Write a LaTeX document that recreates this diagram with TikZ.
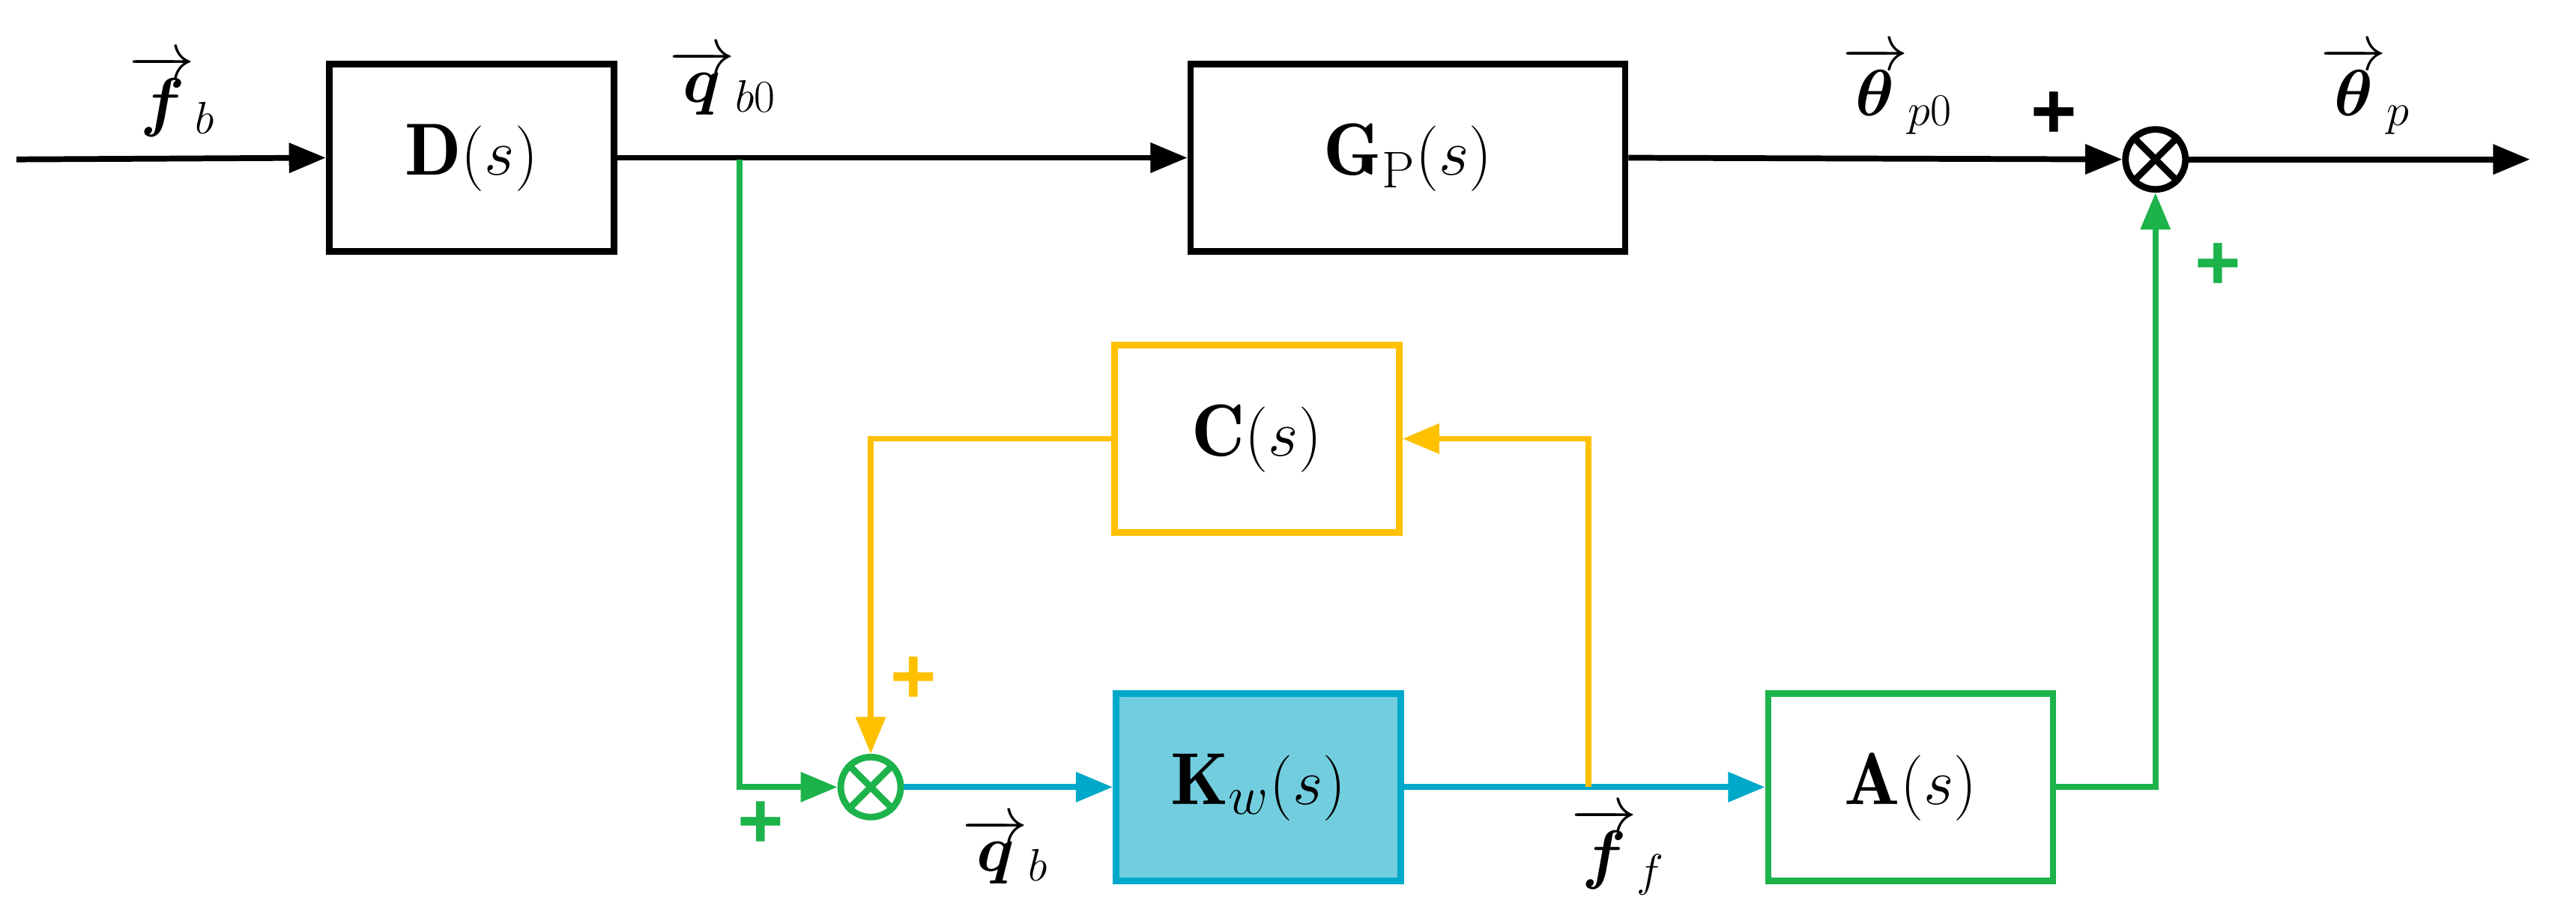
\documentclass[tikz,border=0pt]{standalone}
\usepackage{amsmath,bm}
\usepackage{fontspec}
\newfontfamily\plusfont{Liberation Sans}
\usetikzlibrary{arrows.meta}
\definecolor{cgreen}{HTML}{1DB34B}
\definecolor{corange}{HTML}{FFC000}
\definecolor{cblue}{HTML}{00A9C9}
\definecolor{cfill}{HTML}{72CEDF}
\begin{document}
\begin{tikzpicture}[x=0.02193cm,y=-0.02193cm,
  line width=2.2pt,
  >={Triangle[length=14pt,width=11pt]},
  blk/.style={draw,line width=2.5pt,minimum width=3.8cm,minimum height=2.5cm,inner sep=0pt,font=\fontsize{28}{32}\selectfont},
  sum/.style={draw,circle,line width=2.5pt,minimum size=0.8cm,inner sep=0pt},
  lbl/.style={font=\fontsize{24}{28}\selectfont},
  pl/.style={font=\fontsize{30}{32}\plusfont\bfseries}]
\useasboundingbox (0,0) rectangle (1568,562);
\node[blk] (D) at (287,96) {$\mathbf{D}(s)$};
\node[blk,minimum width=5.8cm] (G) at (857,96) {$\mathbf{G}_{\mathrm{P}}(s)$};
\node[sum] (S1) at (1312,97) {};
\draw[line width=2.5pt] (S1.north west)--(S1.south east) (S1.north east)--(S1.south west);
\node[blk,draw=corange] (C) at (765,267) {$\mathbf{C}(s)$};
\node[blk,draw=cblue,fill=cfill] (K) at (766,479) {$\mathbf{K}_{w}(s)$};
\node[blk,draw=cgreen] (A) at (1163,479) {$\mathbf{A}(s)$};
\node[sum,draw=cgreen] (S2) at (530,479) {};
\draw[cgreen,line width=2.5pt] (S2.north west)--(S2.south east) (S2.north east)--(S2.south west);
\coordinate (in) at (10,97);
\coordinate (out) at (1540,97);
\coordinate (tq) at (450,97);
\coordinate (tf) at (967,479);
% main path
\draw[->] (in) -- (D.west);
\draw[->] (D.east) -- (G.west);
\draw[->] (G.east) -- (S1.west);
\draw[->] (S1.east) -- (out);
% green
\draw[cgreen,->] (tq) |- (S2.west);
\draw[cgreen,->] (A.east) -| (S1.south);
% blue
\draw[cblue,->] (S2.east) -- (K.west);
\draw[cblue,->] (K.east) -- (A.west);
% orange
\draw[corange,->] (tf) |- (C.east);
\draw[corange,->] (C.west) -| (S2.north);
% labels
\node[lbl] (lfb) at (105,58) {$\overrightarrow{\bm f}_{b}$};
\node[lbl] (lqb0) at (440,50) {$\overrightarrow{\bm q}_{b0}$};
\node[lbl] (lth0) at (1155,55) {$\overrightarrow{\bm\theta}_{p0}$};
\node[lbl] (lth) at (1440,55) {$\overrightarrow{\bm\theta}_{p}$};
\node[lbl] (lqb) at (612,518) {$\overrightarrow{\bm q}_{b}$};
\node[lbl] (lff) at (985,518) {$\overrightarrow{\bm f}_{f}$};
\node[pl] (p1) at (1250,70) {+};
\node[pl,text=cgreen] (p2) at (1350,162) {+};
\node[pl,text=cgreen] (p3) at (463,502) {+};
\node[pl,text=corange] (p4) at (556,414) {+};
\end{tikzpicture}
\end{document}
